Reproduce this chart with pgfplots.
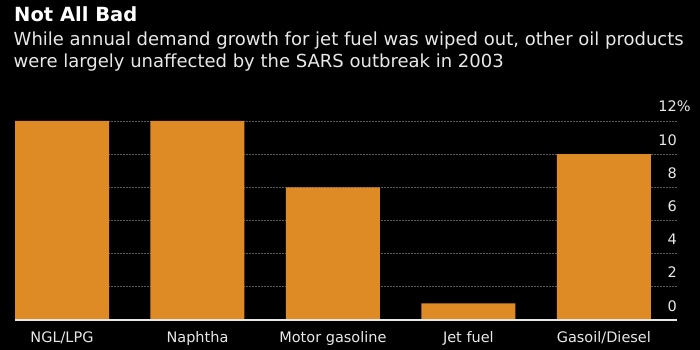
\documentclass[border=0pt]{standalone}
\usepackage{fontspec}
\setmainfont{DejaVu Sans}
\usepackage{pgfplots}
\pgfplotsset{compat=1.18}
\definecolor{barorange}{RGB}{222,138,37}
\definecolor{txt}{RGB}{232,232,232}
\definecolor{gridc}{RGB}{90,90,90}
\begin{document}
\begin{tikzpicture}[x=1pt,y=1pt]
\path[use as bounding box, fill=black] (0,0) rectangle (700,350);
\node[anchor=base west, inner sep=0, text=white, font=\fontsize{19.5}{22}\selectfont\bfseries] at (14,328) {Not All Bad};
\node[anchor=base west, inner sep=0, text=txt, font=\fontsize{18}{20}\selectfont] at (13.5,304) {While annual demand growth for jet fuel was wiped out, other oil products};
\node[anchor=base west, inner sep=0, text=txt, font=\fontsize{18}{20}\selectfont] at (13.5,282) {were largely unaffected by the SARS outbreak in 2003};
\begin{axis}[
  at={(15pt,30pt)}, anchor=south west,
  scale only axis, width=662pt, height=199pt,
  xmin=-0.347, xmax=4.54, ymin=0, ymax=12,
  axis line style={draw=none},
  ybar, bar width=94pt,
  xtick={0,1,2,3,4},
  xticklabels={NGL/LPG,Naphtha,Motor gasoline,Jet fuel,Gasoil/Diesel},
  xticklabel style={anchor=base, yshift=-22pt, inner sep=0, text=txt, font=\fontsize{14.5}{16}\selectfont},
  ytick={0,2,4,6,8,10,12},
  yticklabels={0,2,4,6,8,10,12\rlap{\%}},
  yticklabel pos=right,
  yticklabel style={anchor=base east, inner sep=0, xshift=0pt, yshift=9pt, text=txt, font=\fontsize{14.5}{16}\selectfont},
  major tick length=0pt,
  ymajorgrids, major grid style={gridc, line width=0.8pt, dash pattern=on 1.5pt off 1.5pt},
  /pgf/number format/assume math mode=true,
  clip=false,
]
\addplot[fill=barorange, draw=none] coordinates {(0,12) (1,12) (2,8) (3,1) (4,10)};
\draw[txt, line width=1.2pt] (axis cs:-0.347,0) -- (axis cs:4.54,0);
\end{axis}
\end{tikzpicture}
\end{document}
